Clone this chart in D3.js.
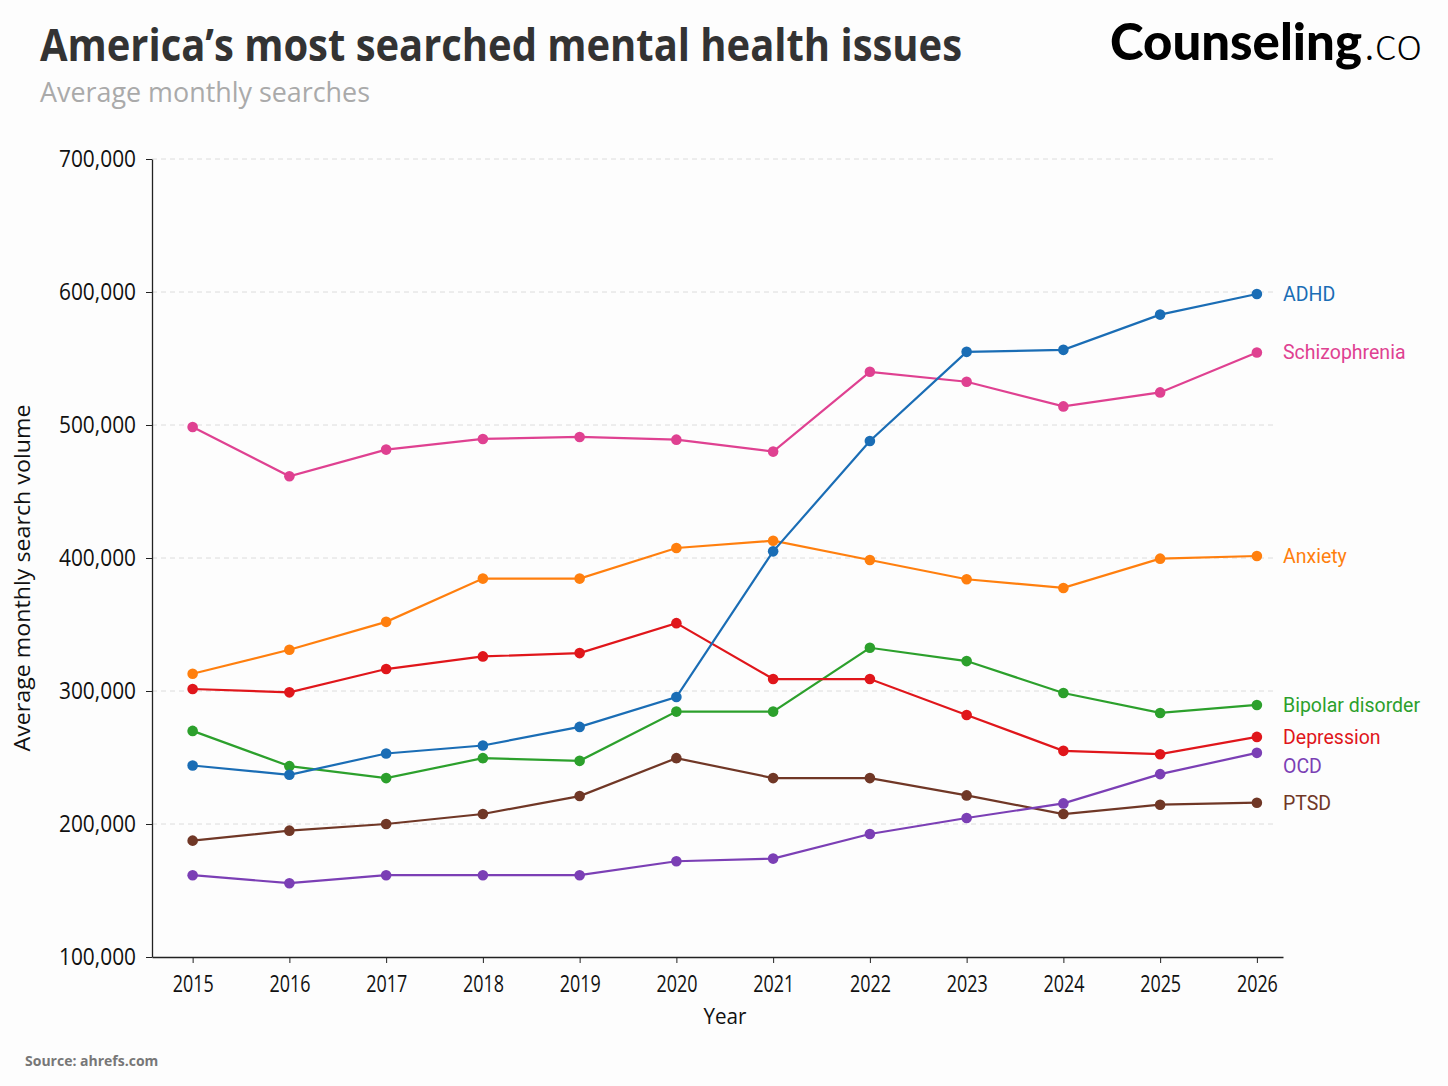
<!DOCTYPE html>
<html><head><meta charset="utf-8">
<script src="https://cdn.jsdelivr.net/npm/d3@7/dist/d3.min.js"></script>
<style>
body{margin:0;background:#fdfdfd;}
svg{display:block;}
</style></head>
<body><svg id="c" width="1448" height="1086"></svg>
<script>
const years = [2015,2016,2017,2018,2019,2020,2021,2022,2023,2024,2025,2026];
const yTicks = [100000,200000,300000,400000,500000,600000,700000];
const seriesNames = ["ADHD","Schizophrenia","Anxiety","Bipolar disorder","Depression","OCD","PTSD"];
const seriesColors = ["#1a6db5","#df4191","#ff7f0e","#2ca02c","#e0161b","#7b3fb5","#703726"];
const adhd = [244000,237000,253000,259000,273000,295500,405000,488000,555000,556500,583000,598500];
const schizophrenia = [498500,461500,481500,489500,491000,489000,480000,540000,532500,514000,524500,554500];
const anxiety = [313000,331000,352000,384500,384500,407500,413000,398500,384000,377500,399500,401500];
const bipolar = [270000,243500,234500,249500,247500,284500,284500,332500,322500,298500,283500,289500];
const depression = [301500,299000,316500,326000,328500,351000,309000,309000,282000,255000,252500,265500];
const ocd = [161500,155500,161500,161500,161500,172000,174000,192500,204500,215500,237500,253500];
const ptsd = [187500,195000,200000,207500,221000,249500,234500,234500,221500,207500,214500,216000];
const seriesValues = [adhd,schizophrenia,anxiety,bipolar,depression,ocd,ptsd];

const svg = d3.select("#c");
const m = {l:152, r:1283, t:159, b:957};
const x = d3.scaleLinear().domain([2014.58,2026.27]).range([m.l, m.r]);
const y = d3.scaleLinear().domain([100000,700000]).range([m.b, m.t]);
const fmt = d3.format(",");

// title
svg.append("text").attr("x",40).attr("y",61).text("America’s most searched mental health issues")
  .attr("font-family","Open Sans").attr("font-weight",700).attr("font-size",45).attr("fill","#333")
  .attr("textLength",922).attr("lengthAdjust","spacingAndGlyphs");
svg.append("text").attr("x",40).attr("y",102).text("Average monthly searches")
  .attr("font-family","Open Sans").attr("font-size",27).attr("fill","#aaa")
  .attr("textLength",330).attr("lengthAdjust","spacingAndGlyphs");

// logo
svg.append("text").attr("x",1110).attr("y",60).attr("font-family","Lato").text("Counseling")
  .attr("font-weight",900).attr("font-size",52).attr("fill","#000")
  .attr("textLength",252).attr("lengthAdjust","spacingAndGlyphs");
svg.append("text").attr("x",1364).attr("y",60).attr("font-family","Lato").text(".co")
  .attr("font-weight",300).attr("font-size",48).attr("fill","#000")
  .attr("textLength",58).attr("lengthAdjust","spacingAndGlyphs");

// grid
svg.append("g").selectAll("line").data(yTicks.slice(1)).join("line")
  .attr("x1",m.l).attr("x2",1276).attr("y1",d=>y(d)).attr("y2",d=>y(d))
  .attr("stroke","#dcdcdc").attr("stroke-dasharray","5,4").attr("stroke-width",1);

// axes
const yAxis = svg.append("g").attr("transform",`translate(${m.l},0)`)
  .call(d3.axisLeft(y).tickValues(yTicks).tickFormat(fmt).tickSize(6).tickSizeOuter(0));
const xAxis = svg.append("g").attr("transform",`translate(0,${m.b})`)
  .call(d3.axisBottom(x).tickValues(years).tickFormat(d3.format("d")).tickSize(6).tickSizeOuter(0));
[yAxis,xAxis].forEach(a=>{
  a.select(".domain").attr("stroke","#222").attr("stroke-width",1.3);
  a.selectAll(".tick line").attr("stroke","#222");
  a.selectAll("text").attr("font-family","Open Sans").attr("font-size",23).attr("fill","#111");
});
yAxis.selectAll("text").attr("x",-16).attr("dy","0.34em").attr("textLength",77).attr("lengthAdjust","spacingAndGlyphs");
xAxis.selectAll("text").attr("y",14).attr("dy","0.9em").attr("textLength",41).attr("lengthAdjust","spacingAndGlyphs");

svg.append("text").attr("transform","translate(30,578) rotate(-90)").attr("text-anchor","middle")
  .text("Average monthly search volume").attr("font-family","Open Sans").attr("font-size",21).attr("fill","#111")
  .attr("textLength",347).attr("lengthAdjust","spacingAndGlyphs");
svg.append("text").attr("x",725).attr("y",1024).attr("text-anchor","middle")
  .text("Year").attr("font-family","Open Sans").attr("font-size",22).attr("fill","#111")
  .attr("textLength",43).attr("lengthAdjust","spacingAndGlyphs");

// lines
const line = d3.line().x((d,i)=>x(years[i])).y(d=>y(d));
const order = [6,5,3,4,2,1,0];
order.forEach(k=>{
  const g = svg.append("g");
  g.append("path").attr("d",line(seriesValues[k])).attr("fill","none")
    .attr("stroke",seriesColors[k]).attr("stroke-width",2.2);
  g.selectAll("circle").data(seriesValues[k]).join("circle")
    .attr("cx",(d,i)=>x(years[i])).attr("cy",d=>y(d)).attr("r",5.3).attr("fill",seriesColors[k]);
});

// end labels with collision avoidance
const labels = seriesNames.map((n,k)=>({n, c:seriesColors[k], y:y(seriesValues[k][years.length-1])}))
  .sort((a,b)=>a.y-b.y);
for(let i=1;i<labels.length;i++){ if(labels[i].y < labels[i-1].y+29) labels[i].y = labels[i-1].y+29; }
svg.append("g").selectAll("text").data(labels).join("text")
  .attr("x",1283).attr("y",d=>d.y).attr("dy","0.35em").text(d=>d.n)
  .attr("font-family","Roboto").attr("font-size",19.5).attr("fill",d=>d.c);

svg.append("text").attr("x",25).attr("y",1066).text("Source: ahrefs.com")
  .attr("font-family","Open Sans").attr("font-weight",700).attr("font-size",14).attr("fill","#777");
</script></body></html>
